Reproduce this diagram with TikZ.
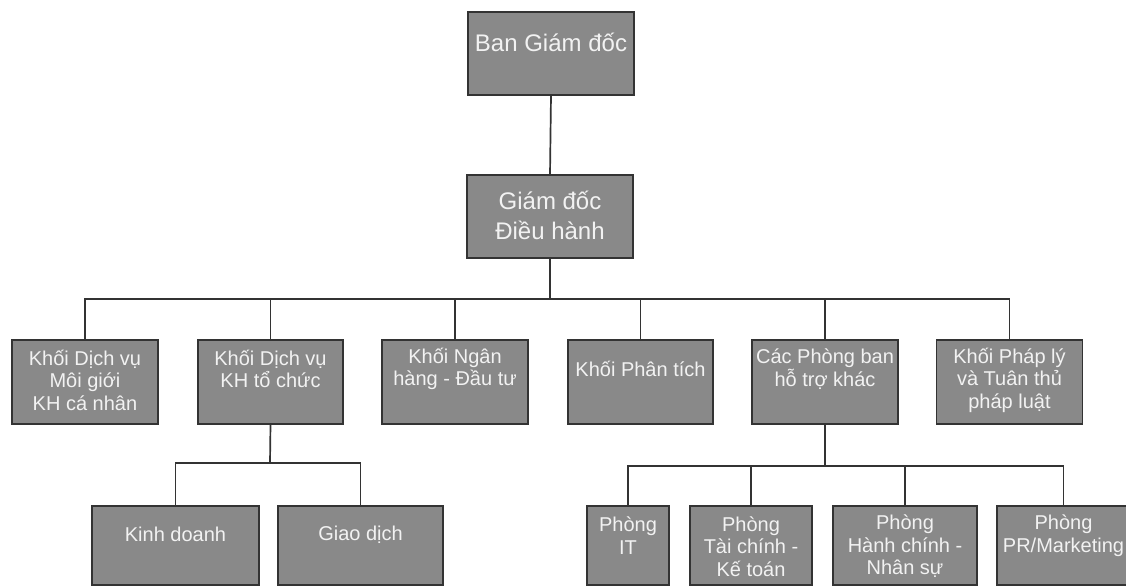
\documentclass[tikz,border=0pt]{standalone}
\usepackage{fontspec}
\setmainfont{Liberation Sans}
\definecolor{boxfill}{HTML}{898989}
\definecolor{edge}{HTML}{333333}
\definecolor{txt}{HTML}{F2F2F2}
\tikzset{
  box/.style={draw=edge, line width=1.6pt, fill=boxfill, inner sep=0pt, outer sep=0pt},
  lbl/.style={text=txt, align=center, inner sep=0pt, font=\fontsize{20}{22.5}\selectfont},
  biglbl/.style={text=txt, align=center, inner sep=0pt, font=\fontsize{24}{30}\selectfont},
  wire/.style={draw=edge, line width=1.7pt}
}
\begin{document}
\begin{tikzpicture}[x=1pt,y=-1pt]
\useasboundingbox (0,0) rectangle (1126,586);
% top
\node[box, minimum width=166pt, minimum height=83pt, label={[biglbl, yshift=11pt]center:{Ban Giám đốc}}] (bgd) at (551,53.5) {};
\node[box, minimum width=166pt, minimum height=83pt, label={[biglbl, yshift=1.5pt]center:{Giám đốc\\Điều hành}}] (gd) at (550,216.5) {};
% row 2
\node[box, minimum width=146pt, minimum height=84pt, label={[lbl, yshift=2pt]center:{Khối Dịch vụ\\Môi giới\\KH cá nhân}}] (b1) at (85,382) {};
\node[box, minimum width=145pt, minimum height=84pt, label={[lbl, yshift=13pt]center:{Khối Dịch vụ\\KH tổ chức}}] (b2) at (270.5,382) {};
\node[box, minimum width=146pt, minimum height=84pt, label={[lbl, yshift=13pt]center:{Khối Ngân\\hàng - Đầu tư}}] (b3) at (455,382) {};
\node[box, minimum width=145pt, minimum height=84pt, label={[lbl, yshift=13pt]center:{Khối Phân tích}}] (b4) at (640.5,382) {};
\node[box, minimum width=146pt, minimum height=84pt, label={[lbl, yshift=13pt]center:{Các Phòng ban\\hỗ trợ khác}}] (b5) at (825,382) {};
\node[box, minimum width=146pt, minimum height=84pt, label={[lbl, yshift=2pt]center:{Khối Pháp lý\\và Tuân thủ\\pháp luật}}] (b6) at (1009.5,382) {};
% row 3
\node[box, minimum width=167pt, minimum height=79pt, label={[lbl, yshift=11pt]center:{Kinh doanh}}] (c1) at (175.5,545.5) {};
\node[box, minimum width=165pt, minimum height=79pt, label={[lbl, yshift=11pt]center:{Giao dịch}}] (c2) at (360.5,545.5) {};
\node[box, minimum width=82pt, minimum height=79pt, label={[lbl, yshift=10pt]center:{Phòng\\IT}}] (d1) at (628,545.5) {};
\node[box, minimum width=122pt, minimum height=79pt, label={[lbl, yshift=-1pt]center:{Phòng\\Tài chính -\\Kế toán}}] (d2) at (751,545.5) {};
\node[box, minimum width=144pt, minimum height=79pt, label={[lbl, yshift=-1pt]center:{Phòng\\Hành chính -\\Nhân sự}}] (d3) at (905,545.5) {};
\node[box, minimum width=133pt, minimum height=79pt, label={[lbl, yshift=10pt]center:{Phòng\\PR/Marketing}}] (d4) at (1063.5,545.5) {};
% connectors
\coordinate (busA) at (550,299);
\coordinate (busL) at (270,463);
\coordinate (busR) at (825,466);
\draw[wire] (bgd.south) -- (gd.north);
\draw[wire] (gd.south) -- (busA);
\foreach \n in {b1,b2,b3,b4,b5,b6} { \draw[wire] (busA) -| (\n.north); }
\draw[wire] (b2.south) -- (busL);
\foreach \n in {c1,c2} { \draw[wire] (busL) -| (\n.north); }
\draw[wire] (b5.south) -- (busR);
\foreach \n in {d1,d2,d3,d4} { \draw[wire] (busR) -| (\n.north); }
\end{tikzpicture}
\end{document}
